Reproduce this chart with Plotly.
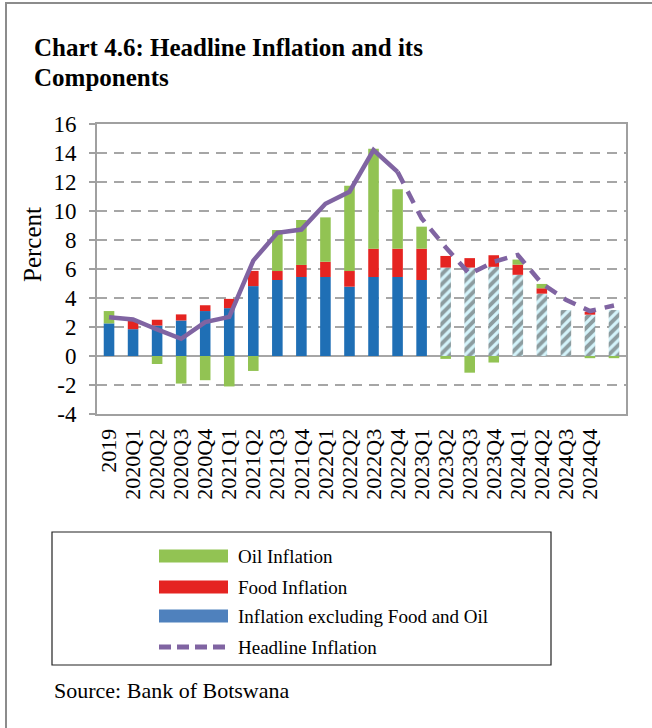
import plotly.graph_objects as go

# Quarterly periods shown on the category axis
tick_labels = ["2019", "2020Q1", "2020Q2", "2020Q3", "2020Q4",
               "2021Q1", "2021Q2", "2021Q3", "2021Q4",
               "2022Q1", "2022Q2", "2022Q3", "2022Q4",
               "2023Q1", "2023Q2", "2023Q3", "2023Q4",
               "2024Q1", "2024Q2", "2024Q3", "2024Q4"]

# Percent axis ticks
y_ticks = [-4, -2, 0, 2, 4, 6, 8, 10, 12, 14, 16]

# Contributions to headline inflation (percentage points)
core = [2.25, 1.85, 2.10, 2.45, 3.10, 3.30, 4.82, 5.24, 5.45, 5.45, 4.78,
        5.45, 5.45, 5.24, 6.10, 6.10, 6.15, 5.60, 4.30, 3.17, 2.85, 3.17]
food = [0.00, 0.60, 0.40, 0.42, 0.40, 0.64, 1.05, 0.62, 0.83, 1.05, 1.08,
        1.95, 1.95, 2.16, 0.80, 0.65, 0.80, 0.70, 0.37, 0.00, 0.20, 0.00]
oil = [0.85, 0.00, -0.55, -1.90, -1.67, -2.10, -1.03, 2.83, 3.10, 3.06, 5.89,
       6.90, 4.10, 1.52, -0.20, -1.15, -0.45, 0.35, 0.30, 0.00, -0.15, -0.15]

# Headline inflation (percent)
headline = [2.68, 2.52, 1.83, 1.19, 2.34, 2.70, 6.58, 8.50, 8.72, 10.50, 11.33,
            14.20, 12.70, 9.50, 7.50, 5.65, 6.50, 6.97, 5.00, 3.88, 3.10, 3.48]

last_actual_line = 12      # headline is projected after 2022Q4
first_projected_bar = 14   # bars are projected from 2023Q2

x = list(range(len(core)))
projected = [i >= first_projected_bar for i in x]

BLUE = "#1F6FB5"
BLUE_LEGEND = "#4F81BD"
RED = "#E52421"
GREEN = "#92C353"
PURPLE = "#8064A2"
GRID = "#A6A6A6"
SERIF = "Liberation Serif, Times New Roman, serif"

fig = go.Figure()

fig.add_trace(go.Bar(
    x=x, y=core, name="Inflation excluding Food and Oil",
    marker=dict(
        color=["#D4F4FB" if p else BLUE for p in projected],
        line=dict(width=0),
        pattern=dict(shape=["/" if p else "" for p in projected],
                     fgcolor="#1565B3", size=7, solidity=0.55),
    ),
    showlegend=False,
))
fig.add_trace(go.Bar(
    x=x, y=food, name="Food Inflation",
    marker=dict(color=RED, line=dict(width=0)), showlegend=False,
))
fig.add_trace(go.Bar(
    x=x, y=oil, name="Oil Inflation",
    marker=dict(color=GREEN, line=dict(width=0)), showlegend=False,
))

# Headline: solid for outturns, dashed for projections
fig.add_trace(go.Scatter(
    x=x[:last_actual_line + 1], y=headline[:last_actual_line + 1],
    mode="lines", line=dict(color=PURPLE, width=4.5),
    showlegend=False,
))
fig.add_trace(go.Scatter(
    x=x[last_actual_line:], y=headline[last_actual_line:],
    mode="lines", line=dict(color=PURPLE, width=4.5, dash="13px,9px"),
    showlegend=False,
))

# Plot area in pixels
L, R, T, B = 97, 626, 124, 414
W, H = 652, 728


def px(xp):
    return (xp - L) / (R - L)


def py(yp):
    return (B - yp) / (B - T)


shapes = []
annotations = []

# Outer frame of the exhibit
shapes.append(dict(type="rect", xref="paper", yref="paper",
                   x0=px(6), x1=px(W + 10), y0=py(H + 10), y1=py(3),
                   line=dict(color="#8C8C8C", width=2), layer="below"))

# Title, two lines
for line_text, yc in [("Chart 4.6: Headline Inflation and its", 48),
                      ("Components", 77)]:
    annotations.append(dict(
        text="<b>" + line_text + "</b>",
        xref="paper", yref="paper", x=px(32), y=py(yc),
        xanchor="left", yanchor="middle", align="left", showarrow=False,
        font=dict(family=SERIF, size=25, color="black"),
    ))

# Y-axis title
annotations.append(dict(
    text="Percent", textangle=-90,
    xref="paper", yref="paper", x=px(32), y=py(245),
    xanchor="center", yanchor="middle", showarrow=False,
    font=dict(family=SERIF, size=25, color="black"),
))

# Legend box
shapes.append(dict(type="rect", xref="paper", yref="paper",
                   x0=px(52), x1=px(551), y0=py(665), y1=py(532),
                   line=dict(color="#222222", width=1.2)))

legend_rows = [
    ("Oil Inflation", "bar", GREEN, 556),
    ("Food Inflation", "bar", RED, 587),
    ("Inflation excluding Food and Oil", "bar", BLUE_LEGEND, 616),
    ("Headline Inflation", "line", PURPLE, 647),
]
for label, kind, color, yc in legend_rows:
    if kind == "bar":
        shapes.append(dict(type="rect", xref="paper", yref="paper",
                           x0=px(159), x1=px(228), y0=py(yc + 6.5), y1=py(yc - 6.5),
                           fillcolor=color, line=dict(width=0)))
    else:
        shapes.append(dict(type="line", xref="paper", yref="paper",
                           x0=px(159), x1=px(228), y0=py(yc), y1=py(yc),
                           line=dict(color=color, width=5, dash="12px,6px")))
    annotations.append(dict(
        text=label, xref="paper", yref="paper", x=px(236), y=py(yc),
        xanchor="left", yanchor="middle", showarrow=False,
        font=dict(family=SERIF, size=19, color="black"),
    ))

# Source note
annotations.append(dict(
    text="Source: Bank of Botswana",
    xref="paper", yref="paper", x=px(52), y=py(690),
    xanchor="left", yanchor="middle", showarrow=False,
    font=dict(family=SERIF, size=22, color="black"),
))

fig.update_layout(
    width=W, height=H,
    margin=dict(l=L, r=W - R, t=T, b=H - B),
    paper_bgcolor="white", plot_bgcolor="white",
    barmode="relative", bargap=0.56,
    font=dict(family=SERIF, color="black"),
    shapes=shapes, annotations=annotations,
    showlegend=False,
)

fig.update_xaxes(
    range=[-0.5, len(core) - 0.5],
    tickmode="array", tickvals=list(range(len(tick_labels))), ticktext=tick_labels,
    tickangle=-90, tickfont=dict(family=SERIF, size=22, color="black"),
    showgrid=False, zeroline=False,
    showline=True, mirror=True, linecolor="#A0A0A0", linewidth=2,
    ticks="", ticklabelstandoff=4,
)
fig.update_yaxes(
    range=[-4, 16],
    tickmode="array", tickvals=y_ticks, ticktext=[str(v) for v in y_ticks],
    tickfont=dict(family=SERIF, size=23, color="black"),
    showgrid=True, gridcolor=GRID, gridwidth=2, griddash="10px,7px",
    zeroline=True, zerolinecolor=GRID, zerolinewidth=2,
    showline=True, mirror=True, linecolor="#A0A0A0", linewidth=2,
    ticks="outside", ticklen=6, tickcolor="#A0A0A0", tickwidth=2,
    ticklabelstandoff=8,
)

fig.write_html("out.html")
